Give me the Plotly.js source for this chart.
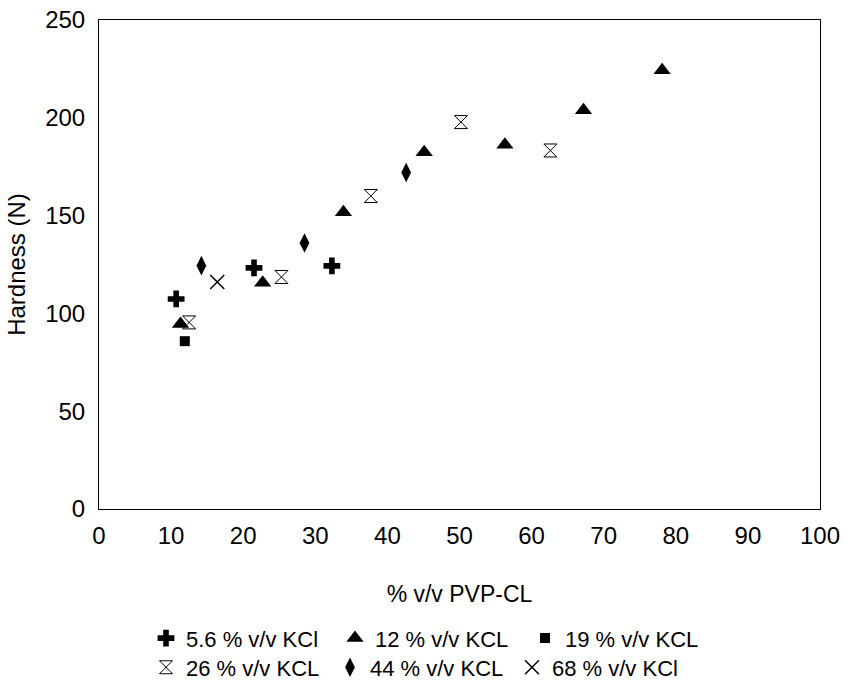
<!DOCTYPE html>
<html>
<head>
<meta charset="utf-8">
<script src="https://cdn.plot.ly/plotly-3.0.1.min.js"></script>
<style>html,body{margin:0;padding:0;background:#fff;}#chart{width:848px;height:700px;}</style>
</head>
<body>
<div id="chart"></div>
<script>
// Data
const seriesNames = ["5.6 % v/v KCl", "12 % v/v KCL", "19 % v/v KCL", "26 % v/v KCL", "44 % v/v KCL", "68 % v/v KCl"];
const kcl56_x = [10.7, 21.5, 32.3];
const kcl56_y = [107.4, 123.3, 124.3];
const kcl12_x = [11.3, 22.7, 33.9, 45.1, 56.3, 67.2, 78.1];
const kcl12_y = [94.6, 115.7, 151.7, 182.4, 186.2, 203.9, 224.3];
const kcl19_x = [11.9];
const kcl19_y = [85.8];
const kcl26_x = [12.5, 25.3, 37.7, 50.2, 62.6];
const kcl26_y = [95.4, 118.6, 160.0, 197.8, 183.3];
const kcl44_x = [14.2, 28.5, 42.6];
const kcl44_y = [124.4, 136.0, 172.0];
const kcl68_x = [16.4];
const kcl68_y = [116.1];
const cornerDot_x = [100];
const cornerDot_y = [251.5];
const xTicks = [0, 10, 20, 30, 40, 50, 60, 70, 80, 90, 100];
const yTicks = [0, 50, 100, 150, 200, 250];

const FONT = "'Liberation Sans', Arial, Helvetica, sans-serif";

// plot area geometry (pixels)
const PL = 99, PR = 820, PT = 20, PB = 523;
const PW = PR - PL, PH = PB - PT;
function px2x(p) { return (p - PL) / PW; }
function py2y(p) { return (PB - p) / PH; }

function tr(name, x, y, marker, legend) {
  return {type: "scatter", mode: "markers", name: name, x: x, y: y,
          marker: marker, legend: legend, cliponaxis: false};
}

const traces = [
  tr(seriesNames[0], kcl56_x, kcl56_y, {symbol: "cross", size: 14, color: "#000"}, "legend"),
  tr(seriesNames[1], kcl12_x, kcl12_y, {symbol: "triangle-up", size: 15, color: "#000"}, "legend2"),
  tr(seriesNames[2], kcl19_x, kcl19_y, {symbol: "square", size: 10, color: "#000"}, "legend3"),
  tr(seriesNames[3], kcl26_x, kcl26_y, {symbol: "hourglass-open", size: 13, color: "#000", line: {width: 1, color: "#000"}}, "legend4"),
  tr(seriesNames[4], kcl44_x, kcl44_y, {symbol: "diamond-tall", size: 14, color: "#000"}, "legend5"),
  tr(seriesNames[5], kcl68_x, kcl68_y, {symbol: "x-thin", size: 14, color: "#000", line: {width: 1.5, color: "#000"}}, "legend6"),
  {type: "scatter", mode: "markers", x: cornerDot_x, y: cornerDot_y, showlegend: false,
   marker: {symbol: "circle", size: 4, color: "#000"}, cliponaxis: false, hoverinfo: "skip"}
];

function leg(leftPx, centerYPx) {
  return {orientation: "h", x: px2x(leftPx), xanchor: "left", y: py2y(centerYPx), yanchor: "middle",
          font: {size: 22}, itemwidth: 30, tracegroupgap: 0, bgcolor: "rgba(0,0,0,0)", borderwidth: 0};
}

const ROW1 = 656, ROW2 = 686;
const layout = {
  width: 848, height: 700,
  margin: {l: PL, r: 848 - PR, t: PT, b: 700 - PB},
  paper_bgcolor: "#fff", plot_bgcolor: "#fff",
  font: {family: FONT, size: 24, color: "#000"},
  showlegend: true,
  xaxis: {
    range: [0, 100], tickvals: xTicks, ticktext: xTicks.map(String),
    showgrid: false, zeroline: false, showline: true, mirror: true,
    linecolor: "#000", linewidth: 1, ticks: "", ticklabelstandoff: 5,
    tickfont: {size: 24},
    title: {text: "% v/v PVP-CL", font: {size: 23}, standoff: 38}
  },
  yaxis: {
    range: [0, 250], tickvals: yTicks, ticktext: yTicks.map(String),
    showgrid: false, zeroline: false, showline: true, mirror: true,
    linecolor: "#000", linewidth: 1, ticks: "", ticklabelstandoff: 8,
    tickfont: {size: 24},
    title: {text: "Hardness (N)", font: {size: 24}, standoff: 12}
  },
  legend:  leg(146, ROW1),
  legend2: leg(335, ROW1),
  legend3: leg(525, ROW1),
  legend4: leg(146, ROW2),
  legend5: leg(330, ROW2),
  legend6: leg(512, ROW2)
};

Plotly.newPlot("chart", traces, layout, {displayModeBar: false, staticPlot: true});
</script>
</body>
</html>
